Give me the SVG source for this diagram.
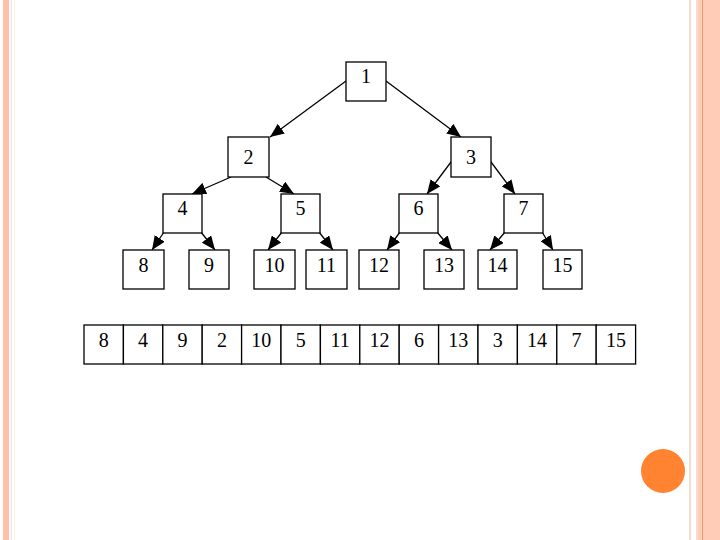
<svg xmlns="http://www.w3.org/2000/svg" width="720" height="540" viewBox="0 0 720 540">
<style>
.node rect{fill:#fff;stroke:#000;stroke-width:1.3}
.cell{fill:#fff;stroke:#000;stroke-width:1.3}
text{font-family:"Liberation Serif","Times New Roman",serif;font-size:20px;fill:#000;text-anchor:middle}
.edges line{stroke:#000;stroke-width:1.3;marker-end:url(#ah)}
</style>
<defs>
<marker id="ah" markerUnits="userSpaceOnUse" markerWidth="15" markerHeight="12" refX="14" refY="6" orient="auto">
<path d="M0,0 L14,6 L0,12 z" fill="#000"/>
</marker>
</defs>
<rect x="0" y="0" width="720" height="540" fill="#fff"/>
<g id="frame">
<rect x="3" y="0" width="6" height="540" fill="#FFC2A8"/>
<rect x="11" y="0" width="1" height="540" fill="#EDE0F0"/>
<rect x="14" y="0" width="1" height="540" fill="#F8F2D8"/>
<rect x="689" y="0" width="2" height="540" fill="#F6DCCB"/>
<rect x="696" y="0" width="2" height="540" fill="#F6DCCB"/>
<rect x="698" y="0" width="22" height="540" fill="#FFCCB8"/>
<rect x="702" y="0" width="1" height="540" fill="#F0986C"/>
<circle cx="663" cy="471" r="22" fill="#FF8331"/>
</g>
<g class="edges" id="edges">
<line x1="346" y1="81" x2="270" y2="137"/>
<line x1="386" y1="81" x2="461" y2="137"/>
<line x1="231" y1="177" x2="192" y2="194"/>
<line x1="266" y1="177" x2="294" y2="194"/>
<line x1="454" y1="158" x2="427" y2="194"/>
<line x1="488" y1="158" x2="515" y2="194"/>
<line x1="164" y1="232" x2="152" y2="250"/>
<line x1="201" y1="232" x2="215" y2="250"/>
<line x1="282" y1="232" x2="268" y2="250"/>
<line x1="319" y1="232" x2="333" y2="250"/>
<line x1="400" y1="232" x2="387" y2="250"/>
<line x1="437" y1="232" x2="452" y2="250"/>
<line x1="505" y1="232" x2="490" y2="250"/>
<line x1="542" y1="232" x2="553" y2="250"/>
</g>
<g class="node" id="n1"><rect x="346" y="62" width="40" height="39"/><text x="366" y="83">1</text></g>
<g class="node" id="n2"><rect x="228" y="137" width="41" height="40"/><text x="248.5" y="164">2</text></g>
<g class="node" id="n3"><rect x="451" y="137" width="40" height="40"/><text x="471" y="164">3</text></g>
<g class="node" id="n4"><rect x="163" y="194" width="39" height="39"/><text x="182.5" y="215">4</text></g>
<g class="node" id="n5"><rect x="281" y="194" width="39" height="39"/><text x="300.5" y="215">5</text></g>
<g class="node" id="n6"><rect x="399" y="194" width="39" height="39"/><text x="418.5" y="215">6</text></g>
<g class="node" id="n7"><rect x="504" y="194" width="39" height="39"/><text x="523.5" y="215">7</text></g>
<g class="node" id="n8"><rect x="123" y="250" width="41" height="39"/><text x="143.5" y="272">8</text></g>
<g class="node" id="n9"><rect x="189" y="250" width="40" height="39"/><text x="209" y="272">9</text></g>
<g class="node" id="n10"><rect x="254" y="250" width="41" height="39"/><text x="274.5" y="272">10</text></g>
<g class="node" id="n11"><rect x="306" y="250" width="41" height="39"/><text x="326.5" y="272">11</text></g>
<g class="node" id="n12"><rect x="359" y="250" width="40" height="39"/><text x="379" y="272">12</text></g>
<g class="node" id="n13"><rect x="424" y="250" width="40" height="39"/><text x="444" y="272">13</text></g>
<g class="node" id="n14"><rect x="478" y="250" width="39" height="39"/><text x="497.5" y="272">14</text></g>
<g class="node" id="n15"><rect x="543" y="250" width="39" height="39"/><text x="562.5" y="272">15</text></g>
<g id="array">
<rect class="cell" x="84" y="325" width="39.4" height="39"/><text x="103.7" y="347">8</text>
<rect class="cell" x="123.4" y="325" width="39.4" height="39"/><text x="143.1" y="347">4</text>
<rect class="cell" x="162.8" y="325" width="39.4" height="39"/><text x="182.5" y="347">9</text>
<rect class="cell" x="202.2" y="325" width="39.4" height="39"/><text x="221.9" y="347">2</text>
<rect class="cell" x="241.6" y="325" width="39.4" height="39"/><text x="261.3" y="347">10</text>
<rect class="cell" x="281" y="325" width="39.4" height="39"/><text x="300.7" y="347">5</text>
<rect class="cell" x="320.4" y="325" width="39.4" height="39"/><text x="340.1" y="347">11</text>
<rect class="cell" x="359.8" y="325" width="39.4" height="39"/><text x="379.5" y="347">12</text>
<rect class="cell" x="399.2" y="325" width="39.4" height="39"/><text x="418.9" y="347">6</text>
<rect class="cell" x="438.6" y="325" width="39.4" height="39"/><text x="458.3" y="347">13</text>
<rect class="cell" x="478" y="325" width="39.4" height="39"/><text x="497.7" y="347">3</text>
<rect class="cell" x="517.4" y="325" width="39.4" height="39"/><text x="537.1" y="347">14</text>
<rect class="cell" x="556.8" y="325" width="39.4" height="39"/><text x="576.5" y="347">7</text>
<rect class="cell" x="596.2" y="325" width="39.4" height="39"/><text x="615.9" y="347">15</text>
</g>
</svg>
